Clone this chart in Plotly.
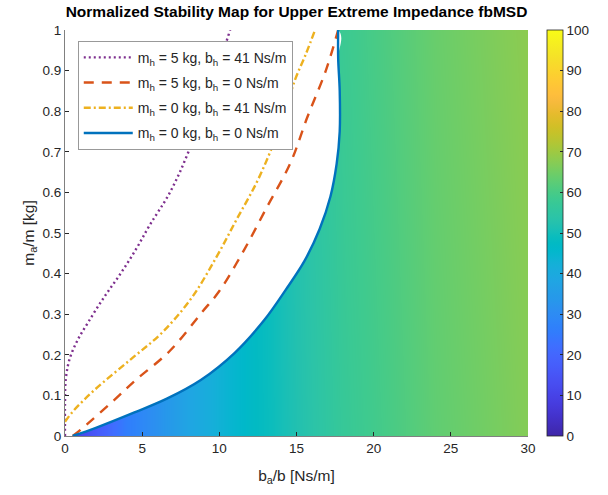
import plotly.graph_objects as go

# ---------------- data ----------------
# stability value columns (read from heat-map colour along b_a/b)
ba_cols = [0, 1, 2, 3, 4, 6, 8, 10, 12, 15, 18, 21, 24, 27, 30]
ma_rows = [0, 1]
stab_bottom = [4, 11, 16, 21, 26, 32, 38, 43, 47, 52, 57, 60, 63, 65, 67]
stab_top = [4, 11, 16, 21, 26, 32, 38, 43, 47, 53, 58, 61, 64, 66, 68]

# boundary curves
blue_x = [0.5, 2.0, 4.5, 6.6, 8.8, 11.0, 12.9, 14.3, 15.5, 16.5, 17.2, 17.6, 17.8, 17.8, 17.7, 17.7]
blue_y = [0.0, 0.02, 0.058, 0.092, 0.138, 0.205, 0.285, 0.36, 0.43, 0.51, 0.59, 0.67, 0.75, 0.85, 0.93, 1.0]

red_x = [0.5, 1.0, 3.2, 4.5, 6.8, 8.9, 10.0, 11.6, 13.1, 14.6, 15.7, 16.9, 17.7]
red_y = [0.0, 0.015, 0.089, 0.135, 0.21, 0.306, 0.357, 0.458, 0.565, 0.672, 0.785, 0.90, 1.0]

yel_x = [0.0, 0.5, 1.9, 4.3, 6.3, 8.2, 9.8, 11.1, 12.4, 13.3, 14.2, 14.9, 15.6, 16.2]
yel_y = [0.035, 0.06, 0.113, 0.19, 0.255, 0.34, 0.44, 0.532, 0.623, 0.70, 0.79, 0.877, 0.94, 1.0]

pur_x = [0.0, 0.0, 0.05, 0.3, 0.8, 1.5, 2.5, 3.6, 4.6, 5.5, 6.8, 8.0, 9.2, 10.1, 10.7]
pur_y = [0.0, 0.08, 0.14, 0.19, 0.235, 0.28, 0.34, 0.40, 0.46, 0.52, 0.60, 0.70, 0.83, 0.93, 1.0]

names = ["m<sub>h</sub> = 5 kg, b<sub>h</sub> = 41 Ns/m",
         "m<sub>h</sub> = 5 kg, b<sub>h</sub> = 0 Ns/m",
         "m<sub>h</sub> = 0 kg, b<sub>h</sub> = 41 Ns/m",
         "m<sub>h</sub> = 0 kg, b<sub>h</sub> = 0 Ns/m"]

x_ticks = [0, 5, 10, 15, 20, 25, 30]
y_ticks = [0, 0.1, 0.2, 0.3, 0.4, 0.5, 0.6, 0.7, 0.8, 0.9, 1]
cb_ticks = [0, 10, 20, 30, 40, 50, 60, 70, 80, 90, 100]

# ---------------- parula colormap ----------------
parula = [
    (0.2422, 0.1504, 0.6603), (0.2504, 0.1650, 0.7076), (0.2578, 0.1818, 0.7511), (0.2647, 0.1978, 0.7952),
    (0.2706, 0.2147, 0.8364), (0.2751, 0.2342, 0.8710), (0.2783, 0.2559, 0.8991), (0.2803, 0.2782, 0.9221),
    (0.2813, 0.3006, 0.9414), (0.2810, 0.3228, 0.9579), (0.2795, 0.3447, 0.9717), (0.2760, 0.3667, 0.9829),
    (0.2699, 0.3892, 0.9906), (0.2602, 0.4123, 0.9952), (0.2440, 0.4358, 0.9988), (0.2206, 0.4603, 0.9973),
    (0.1963, 0.4847, 0.9892), (0.1834, 0.5074, 0.9798), (0.1786, 0.5289, 0.9682), (0.1764, 0.5499, 0.9520),
    (0.1687, 0.5703, 0.9359), (0.1540, 0.5902, 0.9218), (0.1460, 0.6091, 0.9079), (0.1380, 0.6276, 0.8973),
    (0.1248, 0.6459, 0.8883), (0.1113, 0.6635, 0.8763), (0.0952, 0.6798, 0.8598), (0.0689, 0.6948, 0.8394),
    (0.0297, 0.7082, 0.8163), (0.0036, 0.7203, 0.7917), (0.0067, 0.7312, 0.7660), (0.0433, 0.7411, 0.7394),
    (0.0964, 0.7500, 0.7120), (0.1408, 0.7584, 0.6842), (0.1717, 0.7670, 0.6554), (0.1938, 0.7758, 0.6251),
    (0.2161, 0.7843, 0.5923), (0.2470, 0.7918, 0.5567), (0.2906, 0.7973, 0.5188), (0.3406, 0.8008, 0.4789),
    (0.3909, 0.8029, 0.4354), (0.4456, 0.8024, 0.3909), (0.5044, 0.7993, 0.3480), (0.5616, 0.7942, 0.3045),
    (0.6174, 0.7876, 0.2612), (0.6720, 0.7793, 0.2227), (0.7242, 0.7698, 0.1910), (0.7738, 0.7598, 0.1646),
    (0.8203, 0.7498, 0.1535), (0.8634, 0.7406, 0.1596), (0.9035, 0.7330, 0.1774), (0.9393, 0.7288, 0.2100),
    (0.9728, 0.7298, 0.2394), (0.9956, 0.7434, 0.2371), (0.9970, 0.7659, 0.2199), (0.9952, 0.7893, 0.2028),
    (0.9892, 0.8136, 0.1885), (0.9786, 0.8386, 0.1766), (0.9676, 0.8639, 0.1643), (0.9610, 0.8890, 0.1537),
    (0.9597, 0.9135, 0.1423), (0.9628, 0.9373, 0.1265), (0.9691, 0.9606, 0.1064), (0.9769, 0.9839, 0.0805)]
n = len(parula)
colorscale = [[i / (n - 1), "rgb(%d,%d,%d)" % tuple(round(c * 255) for c in col)] for i, col in enumerate(parula)]

TXT = "#262626"
FONT = "Liberation Sans, Arial, sans-serif"
SPL = dict(shape="spline", smoothing=1.0)

fig = go.Figure()

fig.add_trace(go.Heatmap(
    x=ba_cols, y=ma_rows, z=[stab_bottom, stab_top],
    zmin=0, zmax=100, zsmooth="best", colorscale=colorscale, showscale=True,
    colorbar=dict(
        x=1.041, xanchor="left", xref="paper", y=0.5, yanchor="middle", len=1.0, lenmode="fraction",
        thickness=16, thicknessmode="pixels", outlinecolor=TXT, outlinewidth=0.8,
        tickmode="array", tickvals=cb_ticks, ticks="inside", ticklen=3, tickcolor=TXT,
        tickfont=dict(family=FONT, size=13.5, color=TXT), xpad=0, ypad=0),
    hoverinfo="skip", showlegend=False))

# white mask for unstable region (left of blue boundary)
fig.add_trace(go.Scatter(
    x=[0] + blue_x + [0], y=[0] + blue_y + [1],
    mode="lines", line=dict(width=0, **SPL), fill="toself", fillcolor="white",
    hoverinfo="skip", showlegend=False))

styles = [("#7E2F8E", "2px,3px"), ("#D95319", "10px,8px"), ("#EDB120", "7px,3px,2px,3px"), ("#0072BD", "solid")]
curves = [(pur_x, pur_y), (red_x, red_y), (yel_x, yel_y), (blue_x, blue_y)]
for i, ((cx, cy), (col, dash)) in enumerate(zip(curves, styles)):
    fig.add_trace(go.Scatter(x=cx, y=cy, mode="lines", name=names[i], legendgroup="g%d" % i,
                             line=dict(color=col, width=2.4, dash=dash, **SPL)))

fig.update_layout(
    width=608, height=495,
    margin=dict(l=65, r=80, t=30, b=59),
    paper_bgcolor="white", plot_bgcolor="white",
    font=dict(family=FONT, size=13.5, color=TXT),
    title=dict(text="<b>Normalized Stability Map for Upper Extreme Impedance fbMSD</b>",
               x=0.5, xref="paper", xanchor="center", y=0.976, yanchor="middle",
               font=dict(family=FONT, size=15.5, color="#000000")),
    xaxis=dict(range=[0, 30], tickvals=x_ticks, ticks="inside", ticklen=4, tickcolor=TXT,
               showline=True, linecolor="#808080", linewidth=1, showgrid=False, zeroline=False,
               tickfont=dict(size=13.5, color=TXT),
               title=dict(text="b<sub>a</sub>/b [Ns/m]", font=dict(size=15.5, color=TXT), standoff=14)),
    yaxis=dict(range=[0, 1], tickvals=y_ticks, ticks="inside", ticklen=4, tickcolor=TXT,
               showline=True, linecolor="#808080", linewidth=1, showgrid=False, zeroline=False,
               tickfont=dict(size=13.5, color=TXT),
               title=dict(text="m<sub>a</sub>/m [kg]", font=dict(size=15.5, color=TXT), standoff=4)),
    legend=dict(x=0.028, y=0.973, xanchor="left", yanchor="top", bgcolor="white",
                bordercolor="#7f7f7f", borderwidth=0.8, font=dict(size=14, color=TXT),
                itemwidth=49, tracegroupgap=4, traceorder="grouped"),
)

fig.write_html("out.html")
